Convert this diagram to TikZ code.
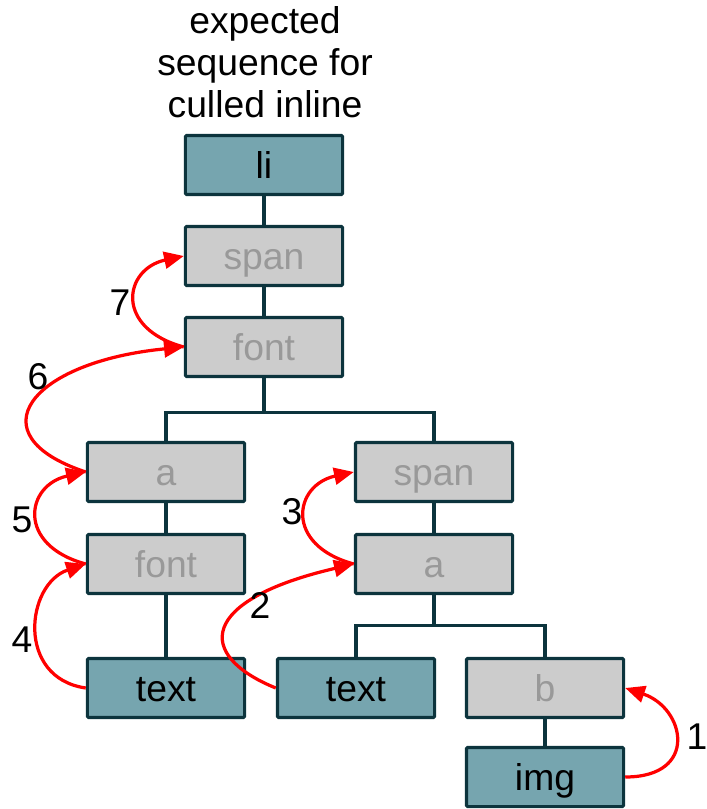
\documentclass[tikz,border=0pt]{standalone}
\usepackage{fontspec}
\setmainfont{Liberation Sans}
\usetikzlibrary{arrows.meta}
\definecolor{boxteal}{HTML}{76A5AF}
\definecolor{boxgray}{HTML}{CCCCCC}
\definecolor{textgray}{HTML}{999999}
\definecolor{edgedark}{HTML}{0C343D}
\begin{document}
\begin{tikzpicture}[x=0.025cm, y=-0.025cm,
  elem/.style={draw=edgedark, line width=2.3pt, rounded corners=1pt, minimum width=3.93cm, minimum height=1.48cm, inner sep=0pt, text height=25pt, text depth=6pt, font=\fontsize{26.5}{29.8}\selectfont},
  kept/.style={elem, fill=boxteal, text=black},
  culled/.style={elem, fill=boxgray, text=textgray},
  tree/.style={draw=edgedark, line width=2.3pt},
  seq/.style={draw=red, line width=2.3pt, -{Triangle[length=14pt,width=12pt]}},
  num/.style={font=\fontsize{26.5}{29.8}\selectfont}]
\useasboundingbox (0,0) rectangle (707,809);
\node[num, align=center] (title) at (265,62) {expected\\sequence for\\culled inline};
\node[kept] (nid0) at (264,165) {li};
\node[culled] (nid1) at (264,256) {span};
\node[culled] (nid2) at (264,347) {font};
\node[culled] (nid3) at (166,472) {a};
\node[culled] (nid4) at (166,564) {font};
\node[kept] (nid5) at (166,688) {text};
\node[culled] (nid6) at (434,472) {span};
\node[culled] (nid7) at (434,564) {a};
\node[kept] (nid8) at (356,688) {text};
\node[culled] (nid9) at (545,688) {b};
\node[kept] (nid10) at (545,777) {img};
\draw[tree] (nid0) -- (nid1);
\draw[tree] (nid1) -- (nid2);
\draw[tree] (nid2.south) -- ++(0,34) -| (nid3.north);
\draw[tree] (nid2.south) -- ++(0,34) -| (nid6.north);
\draw[tree] (nid3) -- (nid4);
\draw[tree] (nid4) -- (nid5);
\draw[tree] (nid6) -- (nid7);
\draw[tree] (nid7.south) -- ++(0,30) -| (nid8.north);
\draw[tree] (nid7.south) -- ++(0,30) -| (nid9.north);
\draw[tree] (nid9) -- (nid10);

\draw[seq] (nid10.east) .. controls +(74,0) and +(60,20) .. (nid9.east);
\draw[seq] (nid8.west) .. controls +(-81,-33) and +(-155,36) .. (nid7.west);
\draw[seq] (nid7.west) .. controls +(-70,-19) and +(-60,13) .. (nid6.west);
\draw[seq] (nid5.west) .. controls +(-70,-10) and +(-60,20) .. (nid4.west);
\draw[seq] (nid4.west) .. controls +(-70,-19) and +(-60,13) .. (nid3.west);
\draw[seq] (nid3.west) .. controls +(-112,-37) and +(-154,15) .. (nid2.west);
\draw[seq] (nid2.west) .. controls +(-70,-19) and +(-60,13) .. (nid1.west);
\node[num] (lab1) at (697,737) {1};
\node[num] (lab2) at (260,605) {2};
\node[num] (lab3) at (292,512) {3};
\node[num] (lab4) at (22,640) {4};
\node[num] (lab5) at (22,520) {5};
\node[num] (lab6) at (38,377) {6};
\node[num] (lab7) at (120,303) {7};

\end{tikzpicture}
\end{document}
